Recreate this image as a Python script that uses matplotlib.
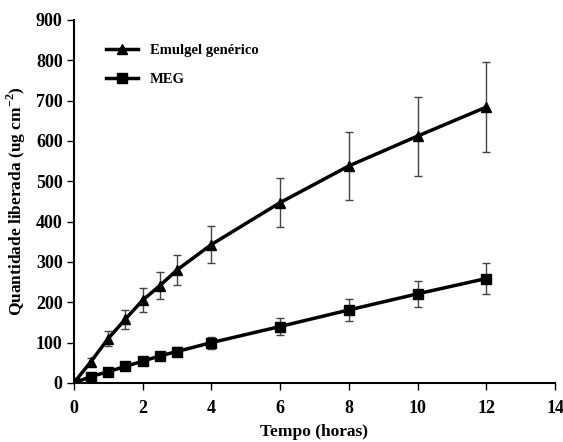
import matplotlib.pyplot as plt

tempo = [0, 0.5, 1, 1.5, 2, 2.5, 3, 4, 6, 8, 10, 12]
emulgel = [0, 53, 110, 158, 205, 241, 280, 343, 447, 538, 612, 684]
emulgel_err = [0, 10, 18, 24, 30, 33, 38, 46, 61, 84, 98, 112]
meg = [0, 16, 28, 41, 54, 67, 78, 100, 140, 181, 221, 259]
meg_err = [0, 4, 5, 6, 8, 10, 12, 15, 21, 27, 32, 38]

plt.rcParams['font.family'] = ['Liberation Serif', 'DejaVu Serif']
plt.rcParams['font.weight'] = 'bold'
plt.rcParams['mathtext.fontset'] = 'custom'
plt.rcParams['mathtext.rm'] = 'Liberation Serif:bold'

fig = plt.figure(figsize=(5.63, 4.42), dpi=100)
ax = fig.add_axes([0.131, 0.1335, 0.855, 0.8215])

e1 = ax.errorbar(tempo, emulgel, yerr=emulgel_err, color='black', lw=2.5,
                 marker='^', ms=7, ecolor='#444444', elinewidth=1, capsize=3,
                 capthick=1, zorder=3)
e2 = ax.errorbar(tempo, meg, yerr=meg_err, color='black', lw=2.5,
                 marker='s', ms=7, ecolor='#444444', elinewidth=1, capsize=3,
                 capthick=1, zorder=3)

ax.set_xlim(0, 14)
ax.set_ylim(0, 900)
ax.set_xticks(range(0, 15, 2))
ax.set_yticks(range(0, 901, 100))
ax.spines['top'].set_visible(False)
ax.spines['right'].set_visible(False)
ax.spines['left'].set_linewidth(1.5)
ax.spines['bottom'].set_linewidth(1.5)
ax.tick_params(labelsize=13, width=1, length=5)
ax.tick_params(axis='y', pad=3)
ax.tick_params(axis='x', pad=7)
for lab in ax.get_xticklabels() + ax.get_yticklabels():
    lab.set_fontweight('bold')

ax.set_xlabel('Tempo (horas)', fontsize=12.5, fontweight='bold', labelpad=5)
ax.set_ylabel('Quantidade liberada (ug cm$^{-2}$)', fontsize=12.5,
              fontweight='bold', labelpad=6)

leg = ax.legend([e1.lines[0], e2.lines[0]], ['Emulgel genérico', 'MEG'],
                loc='upper left', bbox_to_anchor=(0.04, 0.97), frameon=False,
                fontsize=10.5, handlelength=2.2, labelspacing=1.1)
for t in leg.get_texts():
    t.set_fontweight('bold')

fig.savefig('out.png', dpi=100)
